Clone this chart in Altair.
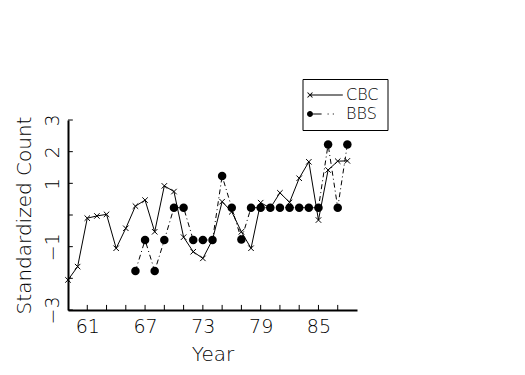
import altair as alt
import pandas as pd

# ---- data ----
cbc_years = list(range(59, 89))
cbc_values = [-2.05, -1.63, -0.10, -0.03, 0.02, -1.05, -0.42, 0.28, 0.47, -0.53,
              0.92, 0.74, -0.70, -1.16, -1.37, -0.78, 0.42, 0.10, -0.53, -1.05,
              0.39, 0.22, 0.70, 0.40, 1.16, 1.68, -0.16, 1.42, 1.70, 1.71]
bbs_years = list(range(66, 89))
bbs_values = [-1.77, -0.79, -1.77, -0.79, 0.23, 0.23, -0.79, -0.79, -0.79, 1.23,
              0.23, -0.77, 0.23, 0.23, 0.23, 0.23, 0.23, 0.23, 0.23, 0.23,
              2.23, 0.23, 2.23]
series_names = ["CBC", "BBS"]
x_tick_years = list(range(61, 89, 2))
x_label_years = [61, 67, 73, 79, 85]
y_tick_values = [-3, -2, -1, 0, 1, 2, 3]
y_label_values = [-3, -1, 1, 2, 3]
x_min, x_max = 59, 89
y_min, y_max = -3, 3
# inward tick lengths, in data units of the other axis
x_tick_len = 0.16
y_tick_len = 0.5

df_cbc = pd.DataFrame({"year": cbc_years, "value": cbc_values})
df_bbs = pd.DataFrame({"year": bbs_years, "value": bbs_values})
df_leg = pd.DataFrame({"series": series_names})
df_xt = pd.DataFrame({"year": x_tick_years})
df_yt = pd.DataFrame({"value": y_tick_values})

FONT = "DejaVu Sans"
CROSS = "M-1,-1L1,1M-1,1L1,-1"
# legend glyphs built from filled outlines (unit = 8 px)
LEG_CBC = ("M-2,-0.0625H2.1V0.0625H-2Z"
           "M-2.266,-0.354L-1.646,0.266L-1.734,0.354L-2.354,-0.266Z"
           "M-2.354,0.266L-1.734,-0.354L-1.646,-0.266L-2.266,0.354Z")
LEG_BBS = ("M-2.375,0A0.375,0.375,0,1,0,-1.625,0A0.375,0.375,0,1,0,-2.375,0Z"
           "M-1.62,-0.0625H-0.55V0.0625H-1.62Z"
           "M0.2,-0.0625H0.33V0.0625H0.2Z"
           "M0.85,-0.0625H0.98V0.0625H0.85Z")

xscale = alt.Scale(domain=[x_min, x_max], nice=False, zero=False)
yscale = alt.Scale(domain=[y_min, y_max], nice=False, zero=False)

X = alt.X("year:Q", scale=xscale,
          axis=alt.Axis(values=x_label_years, format="d", ticks=False, tickSize=0,
                        grid=False, title="Year", labelPadding=7, titlePadding=8))
Y = alt.Y("value:Q", scale=yscale,
          axis=alt.Axis(values=y_label_values, ticks=False, tickSize=0, grid=False,
                        title="Standardized Count", labelAngle=270,
                        labelAlign="center", labelBaseline="bottom",
                        labelPadding=6, titlePadding=9))

# inward axis ticks, drawn through the shared scales
x_ticks = alt.Chart(df_xt).mark_rule(color="black", strokeWidth=1).encode(
    x=X, y=alt.datum(y_min), y2=alt.datum(y_min + x_tick_len))
y_ticks = alt.Chart(df_yt).mark_rule(color="black", strokeWidth=1).encode(
    y=Y, x=alt.datum(x_min), x2=alt.datum(x_min + y_tick_len))

cbc_line = alt.Chart(df_cbc).mark_line(color="black", strokeWidth=1).encode(x=X, y=Y)
cbc_pts = alt.Chart(df_cbc).mark_point(shape=CROSS, size=30, filled=False,
                                       color="black", strokeWidth=1,
                                       opacity=1).encode(x=X, y=Y)
bbs_line = alt.Chart(df_bbs).mark_line(color="black", strokeWidth=1,
                                       strokeDash=[5, 3, 1, 3]).encode(x=X, y=Y)
bbs_pts = alt.Chart(df_bbs).mark_circle(size=72, color="black",
                                        opacity=1).encode(x=X, y=Y)

# legend carrier: no rows drawn, legend entries come from the scale domain
legend_layer = alt.Chart(df_leg).transform_filter("datum.series == 'none'").mark_point(
    filled=True, color="black", opacity=1
).encode(
    x=alt.value(0), y=alt.value(0),
    shape=alt.Shape("series:N",
                    scale=alt.Scale(domain=series_names, range=[LEG_CBC, LEG_BBS]),
                    legend=alt.Legend(title=None, symbolFillColor="black",
                                      symbolOpacity=1, symbolStrokeWidth=0,
                                      labelExpr="datum.label + '\u2003'")),
)

chart = alt.layer(x_ticks, y_ticks, cbc_line, cbc_pts, bbs_line, bbs_pts,
                  legend_layer).properties(
    width=289, height=190,
    autosize=alt.AutoSizeParams(type="none"),
    padding={"left": 60, "top": 112, "right": 160, "bottom": 57},
).configure_view(stroke=None).configure_axis(
    domainColor="black", domainWidth=2, labelColor="black", titleColor="black",
    labelFont=FONT, titleFont=FONT, labelFontSize=19, titleFontSize=20,
    labelFontWeight=200, titleFontWeight=200,
).configure_legend(
    orient="none", legendX=234.5, legendY=-41, fillColor="white",
    strokeColor="black", padding=8, cornerRadius=0, symbolSize=256,
    symbolOpacity=1, symbolFillColor="black", symbolStrokeWidth=0,
    symbolOffset=7.5, labelOffset=12, labelFont=FONT,
    labelFontSize=16, labelFontWeight=200, labelColor="black", rowPadding=3,
)

chart.save("out.html", embed_options={"renderer": "svg", "actions": False})
